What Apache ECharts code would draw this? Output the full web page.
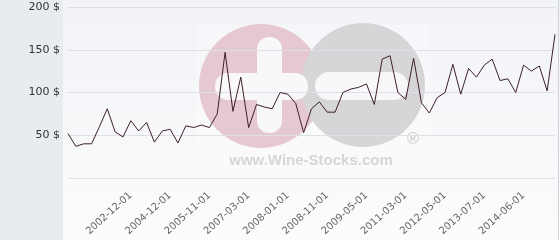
<!DOCTYPE html>
<html>
<head>
<meta charset="utf-8">
<script src="https://cdn.jsdelivr.net/npm/echarts@6/dist/echarts.min.js"></script>
<style>
html,body{margin:0;padding:0;background:#ffffff;}
#chart{width:560px;height:240px;}
</style>
</head>
<body>
<div id="chart"></div>
<script>
// Categories (dates of each observation)
var dates = [
  '2001-02-01','2001-05-01','2001-07-01','2001-09-01','2002-01-01','2002-04-01','2002-07-01','2002-09-01',
  '2002-12-01','2003-03-01','2003-08-01','2004-01-01','2004-06-01',
  '2004-12-01','2005-01-01','2005-04-01','2005-06-01','2005-09-01',
  '2005-11-01','2006-02-01','2006-05-01','2006-09-01','2006-12-01',
  '2007-03-01','2007-05-01','2007-07-01','2007-09-01','2007-11-01',
  '2008-01-01','2008-03-01','2008-05-01','2008-07-01','2008-09-01',
  '2008-11-01','2008-12-01','2009-01-01','2009-03-01','2009-04-01',
  '2009-05-01','2009-09-01','2010-01-01','2010-05-01','2010-10-01',
  '2011-03-01','2011-06-01','2011-09-01','2011-12-01','2012-03-01',
  '2012-05-01','2012-08-01','2012-11-01','2013-02-01','2013-05-01',
  '2013-07-01','2013-09-01','2013-12-01','2014-02-01','2014-04-01',
  '2014-06-01','2014-08-01','2014-10-01','2014-12-01','2015-03-01'
];
// Price values ($)
var prices = [
  52, 37, 40, 40, 60, 81, 54, 48,
  67, 55, 65, 42, 55,
  57, 41, 61, 59, 62,
  59, 75, 147, 78, 118,
  59, 86, 83, 81, 100,
  98, 87, 53, 81, 89,
  77, 77, 100, 104, 106,
  110, 86, 139, 143, 100,
  92, 140, 88, 76, 94,
  100, 133, 98, 128, 118,
  132, 139, 114, 116, 100,
  132, 125, 131, 102, 168
];
// Tick labels shown on the x axis
var xTickLabels = ['2002-12-01','2004-12-01','2005-11-01','2007-03-01','2008-01-01','2008-11-01',
  '2009-05-01','2011-03-01','2012-05-01','2013-07-01','2014-06-01'];
// Y axis tick values that carry a label
var yTickValues = [50, 100, 150, 200];

var chart = echarts.init(document.getElementById('chart'), null, {renderer:'canvas'});
chart.setOption({
  animation: false,
  textStyle: {fontFamily: 'DejaVu Sans'},
  graphic: [
    {type:'rect', z:-20, silent:true, shape:{x:63,y:0,width:497,height:240},
     style:{fill:{type:'linear',x:0,y:0,x2:0,y2:1,colorStops:[{offset:0,color:'#f2f3f7'},{offset:1,color:'#fcfcfd'}]}}},
    {type:'rect', z:-20, silent:true, shape:{x:0,y:0,width:63,height:240}, style:{fill:'#e8ecef'}},
    {type:'rect', z:-19, silent:true, shape:{x:196,y:25,width:234,height:148}, style:{fill:'rgba(255,255,255,0.25)'}},
    {type:'circle', z:-18, silent:true, shape:{cx:261,cy:86,r:62}, style:{fill:'#e6c9d0'}},
    {type:'circle', z:-17, silent:true, shape:{cx:363,cy:85,r:62}, style:{fill:'#d6d6d8'}},
    {type:'rect', z:-16, silent:true, shape:{x:257,y:37,width:25,height:96,r:12}, style:{fill:'#f8f8fa'}},
    {type:'rect', z:-16, silent:true, shape:{x:215,y:73,width:93,height:27,r:13}, style:{fill:'#f8f8fa'}},
    {type:'rect', z:-16, silent:true, shape:{x:315,y:72,width:93,height:28,r:14}, style:{fill:'#f8f8fa'}},
    {type:'text', z:-15, silent:true, x:311, y:161,
     style:{text:'www.Wine-Stocks.com', fill:'#d6d6d8', font:'bold 15px "Liberation Sans"', align:'center', verticalAlign:'middle'}},
    {type:'text', z:-15, silent:true, x:413, y:140,
     style:{text:'®', fill:'#d2d2d5', font:'bold 16px "Liberation Sans"', align:'center', verticalAlign:'middle'}},
    {type:'line', z:-15, silent:true, shape:{x1:558.5,y1:0,x2:558.5,y2:240}, style:{stroke:'#cfd2d6', lineWidth:1}}
  ],
  grid: {left:68, right:5, top:7, bottom:62, containLabel:false},
  xAxis: {
    type:'category',
    data: dates,
    boundaryGap: false,
    axisLine:{show:false},
    axisTick:{show:false},
    splitLine:{show:false},
    axisLabel:{
      rotate:42,
      margin:16,
      fontSize:10,
      color:'#666666',
      fontFamily:'DejaVu Sans',
      interval: function(idx, value){ return xTickLabels.indexOf(value) >= 0; }
    }
  },
  yAxis: {
    type:'value',
    min:0, max:200, interval:50,
    axisLine:{show:false},
    axisTick:{show:false},
    splitLine:{show:true, lineStyle:{color:'#dfe0e3', width:1}},
    axisLabel:{
      margin:8,
      fontSize:11,
      color:'#333333',
      fontFamily:'DejaVu Sans',
      formatter: function(v){ return yTickValues.indexOf(v) >= 0 ? v + ' $' : ''; }
    }
  },
  series: [{
    type:'line',
    data: prices,
    symbol:'none',
    lineStyle:{color:'#3d1f2c', width:1},
    z:3
  }]
});
</script>
</body>
</html>
